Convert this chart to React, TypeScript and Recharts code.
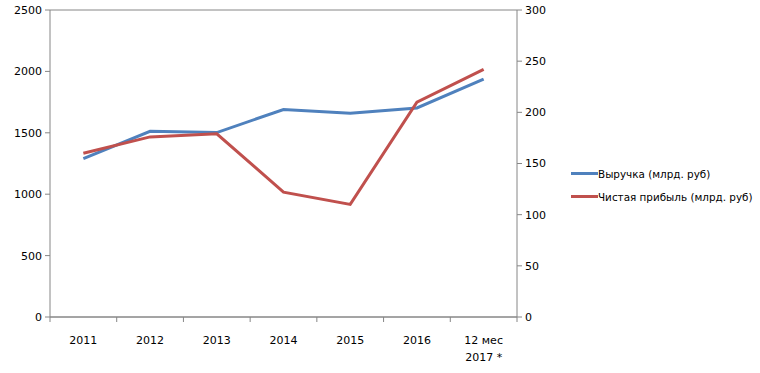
import { LineChart, Line, XAxis, YAxis, CartesianGrid } from 'recharts'

const categories = ['2011', '2012', '2013', '2014', '2015', '2016', '12 мес|2017 *']
const revenue = [1290, 1512, 1502, 1690, 1660, 1702, 1938]
const profit = [160, 176, 179, 122, 110, 210, 242]
const leftTicks = [0, 500, 1000, 1500, 2000, 2500]
const rightTicks = [0, 50, 100, 150, 200, 250, 300]
const seriesNames = ['Выручка (млрд. руб)', 'Чистая прибыль (млрд. руб)']

const data = categories.map((c, i) => ({ name: c, revenue: revenue[i], profit: profit[i] }))

const AXIS = '#868686'
const BLUE = '#4F81BD'
const RED = '#C0504D'
const FONT = '"DejaVu Sans", Verdana, sans-serif'
const BAND = 467 / categories.length

function XTick(props: any) {
  const { x, y, payload, index } = props
  const lines = String(payload.value).split('|')
  const left = x - BAND / 2
  return (
    <g>
      <line x1={left} y1={y - 8} x2={left} y2={y - 3} stroke={AXIS} />
      {index === categories.length - 1 && (
        <line x1={x + BAND / 2} y1={y - 8} x2={x + BAND / 2} y2={y - 3} stroke={AXIS} />
      )}
      {lines.map((l, i) => (
        <text key={i} x={x} y={y + 19 + i * 17} textAnchor="middle" fontSize={11} fill="#000" fontFamily={FONT}>
          {l}
        </text>
      ))}
    </g>
  )
}

function LegendBox() {
  const colors = [BLUE, RED]
  return (
    <div style={{ position: 'absolute', left: 571, top: 162, fontFamily: FONT, fontSize: 10.4, color: '#000', whiteSpace: 'nowrap' }}>
      {seriesNames.map((label, i) => (
        <div key={label} style={{ display: 'flex', alignItems: 'center', height: 23 }}>
          <span style={{ display: 'inline-block', width: 27, height: 3, background: colors[i] }} />
          <span>{label}</span>
        </div>
      ))}
    </div>
  )
}

export default function App() {
  return (
    <div style={{ position: 'absolute', left: 0, top: 0, width: 760, height: 373, background: '#fff' }}>
      <LineChart width={760} height={373} data={data} margin={{ top: 10, right: 203, bottom: 16, left: 0 }}>
        <CartesianGrid vertical={false} stroke={AXIS} strokeWidth={1} />
        <XAxis
          dataKey="name"
          stroke={AXIS}
          tickLine={false}
          tick={<XTick />}
          interval={0}
          height={40}
          padding={{ left: BAND / 2, right: BAND / 2 }}
        />
        <YAxis
          yAxisId="left"
          domain={[0, 2500]}
          ticks={leftTicks}
          width={50}
          stroke={AXIS}
          tickSize={5}
          tickMargin={3}
          tick={{ fill: '#000', fontSize: 11, fontFamily: FONT }}
          interval={0}
        />
        <YAxis
          yAxisId="right"
          orientation="right"
          domain={[0, 300]}
          ticks={rightTicks}
          width={40}
          stroke={AXIS}
          tickSize={5}
          tickMargin={3}
          tick={{ fill: '#000', fontSize: 11, fontFamily: FONT, textAnchor: 'start' }}
          interval={0}
        />
        <Line yAxisId="left" type="linear" dataKey="revenue" name={seriesNames[0]} stroke={BLUE} strokeWidth={3} dot={false} isAnimationActive={false} />
        <Line yAxisId="right" type="linear" dataKey="profit" name={seriesNames[1]} stroke={RED} strokeWidth={3} dot={false} isAnimationActive={false} />
      </LineChart>
      <LegendBox />
    </div>
  )
}
